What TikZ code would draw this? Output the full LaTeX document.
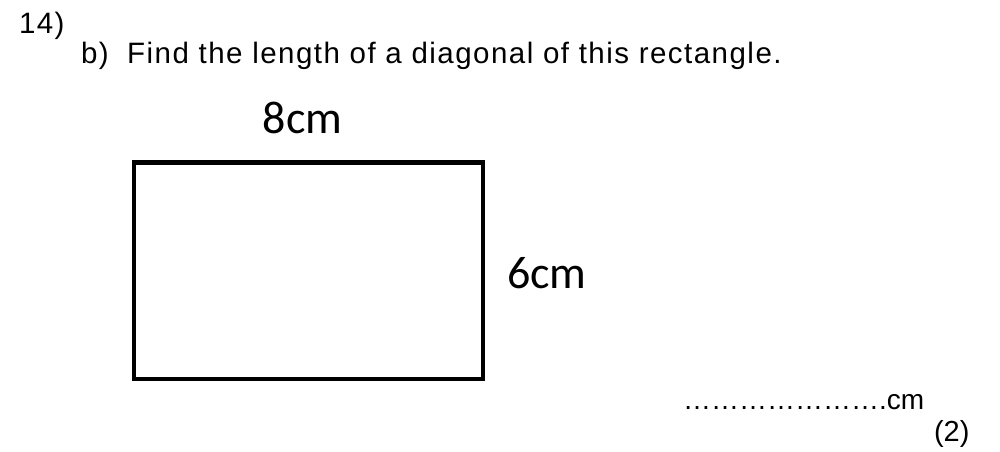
\documentclass[tikz,border=0pt]{standalone}
\usepackage{fontspec}
\setmainfont{Liberation Sans}
\newfontfamily\labelfont{Carlito}
\newfontfamily\spacedfont[LetterSpace=5]{Liberation Sans}
\begin{document}
\begin{tikzpicture}[x=1pt,y=-1pt,
  txt/.style={anchor=base west,inner sep=0pt,outer sep=0pt,font=\spacedfont\fontsize{29.5}{31}\selectfont},
  lbl/.style={inner sep=0pt,outer sep=0pt,font=\labelfont\fontsize{46}{50}\selectfont},
  rectline/.style={draw=black,line width=4.5pt}]
\useasboundingbox[fill=white] (0,0) rectangle (1000,451);
\node[txt] (qnum) at (19,33) {14)};
\node[txt] (qtext) at (81,63) {b)\hspace{0.3em} Find the length of a diagonal of this rectangle.};
\draw[rectline] (134,162.5) rectangle (483,379);
\node[lbl,anchor=base] (top) at (302.5,133) {8cm};
\node[lbl,anchor=base west] (side) at (507,288) {6cm};
\node[txt,font=\fontsize{28}{30}\selectfont] (ans) at (683,409) {{…}{…}{…}{…}{…}{…}{…}.cm};
\node[txt,font=\fontsize{29}{31}\selectfont] (marks) at (934,441) {(2)};
\end{tikzpicture}
\end{document}
